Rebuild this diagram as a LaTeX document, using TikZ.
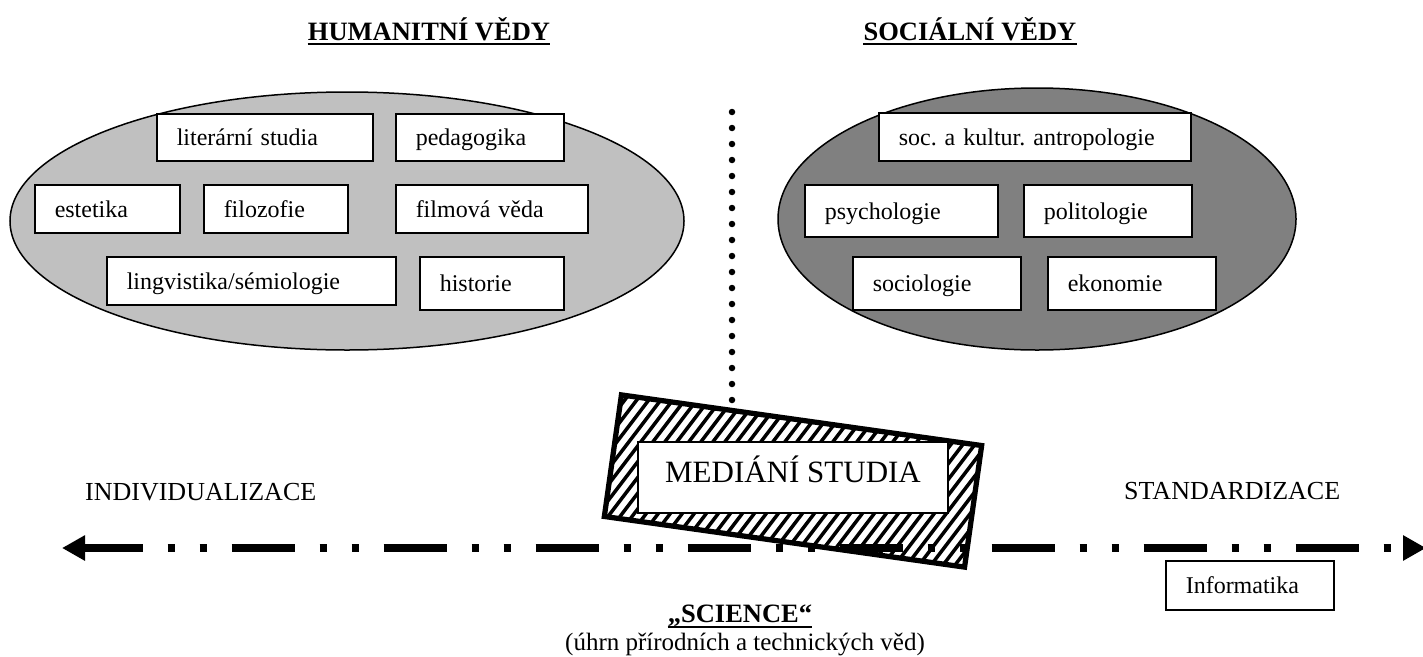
\documentclass[tikz,border=0pt]{standalone}
\usepackage{fontspec}
\setmainfont{Liberation Serif}
\usepackage{tikz}
\usetikzlibrary{arrows.meta}
\definecolor{svetlasede}{HTML}{C0C0C0}
\definecolor{tmavasede}{HTML}{808080}
\frenchspacing
\tikzset{
	obor/.style={draw, line width=1.5pt, fill=white, anchor=north west, align=left, inner xsep=20pt, inner ysep=0pt, minimum height=48pt, text height=17pt, text depth=0pt, font=\fontsize{24}{28}\selectfont},
	nadpis/.style={inner sep=0pt, anchor=base, font=\bfseries\fontsize{26.5}{30}\selectfont},
	popis/.style={inner sep=0pt, anchor=base west, font=\fontsize{26}{30}\selectfont},
	hrot/.tip={Triangle[length=23pt, width=24pt]}
}
\begin{document}
\begin{tikzpicture}[x=1pt, y=-1pt]
		\useasboundingbox(0, 0)rectangle(1423, 656);
		\draw[line width=1.5pt, fill=svetlasede](347, 221)ellipse(337 and 129);
		\draw[line width=1.5pt, fill=tmavasede](1037, 219)ellipse(259 and 131);
		\node[nadpis](hum)at(429, 40){HUMANITNÍ VĚDY};
		\draw[line width=2.5pt]([yshift=-4pt]hum.base west)--([yshift=-4pt]hum.base east);
		\node[nadpis](soc)at(970, 40){SOCIÁLNÍ VĚDY};
		\draw[line width=2.5pt]([yshift=-4pt]soc.base west)--([yshift=-4pt]soc.base east);
		\node[obor, text width=176pt, minimum height=47pt](lit)at(156, 113){literární studia};
		\node[obor, text width=128pt, minimum height=47pt](ped)at(395, 113){pedagogika};
		\node[obor, text width=105pt](est)at(34, 184){estetika};
		\node[obor, text width=104pt](filo)at(203, 184){filozofie};
		\node[obor, text width=152pt](film)at(395, 184){filmová věda};
		\node[obor, text width=249pt](ling)at(106, 256){lingvistika/sémiologie};
		\node[obor, text width=104pt, minimum height=53pt](hist)at(419, 256){historie};
		\node[obor, text width=272pt](antr)at(878, 112){soc. a kultur. antropologie};
		\node[obor, text width=153pt, minimum height=52pt](psy)at(804, 184){psychologie};
		\node[obor, text width=128pt, minimum height=52pt](pol)at(1023, 184){politologie};
		\node[obor, text width=128pt, minimum height=53pt](sociol)at(852, 256){sociologie};
		\node[obor, text width=128pt, minimum height=53pt](eko)at(1047, 256){ekonomie};
		\coordinate(predelA)at(732, 112);
		\coordinate(predelB)at(732, 400.5);
		\draw[line width=6.5pt, line cap=round, dash pattern=on 0pt off 16pt](predelA)--(predelB);
		\node[draw, line width=3.5pt, rotate=-8, minimum width=362pt, minimum height=121pt](medrect)at(793, 481){};
		\begin{scope}
			\clip(medrect.north west)--(medrect.north east)--(medrect.south east)--(medrect.south west)--cycle;
			\foreach \x in {420, 432, ..., 1000}
				\draw[line width=3.5pt](\x, 590)--++(160, -210);
		\end{scope}
		\draw[line width=3.5pt](medrect.north west)--(medrect.north east)--(medrect.south east)--(medrect.south west)--cycle;
		\node[draw, line width=1.5pt, fill=white, minimum width=310pt, minimum height=71pt, text height=21pt, text depth=12pt, font=\fontsize{31}{36}\selectfont](med)at(793, 477.5){MEDIÁNÍ STUDIA};
		\coordinate(levy)at(62, 548);
		\coordinate(pravy)at(1426, 548);
		\draw[line width=8pt, hrot-hrot, dash pattern=on 63pt off 25pt on 7pt off 25pt on 7pt off 25pt, dash phase=4pt](levy)--(pravy);
		\node[popis](ind)at(85, 500){INDIVIDUALIZACE};
		\node[popis](std)at(1124, 499){STANDARDIZACE};
		\node[obor, text width=128pt, minimum height=49pt](inf)at(1165, 560){Informatika};
		\node[nadpis](sci)at(740, 622){„SCIENCE“};
		\draw[line width=2.5pt]([yshift=-5pt]sci.base west)--([yshift=-5pt]sci.base east);
		\node[nadpis, font=\fontsize{25}{30}\selectfont](uhrn)at(745, 650){(úhrn přírodních a technických věd)};
\end{tikzpicture}
\end{document}
